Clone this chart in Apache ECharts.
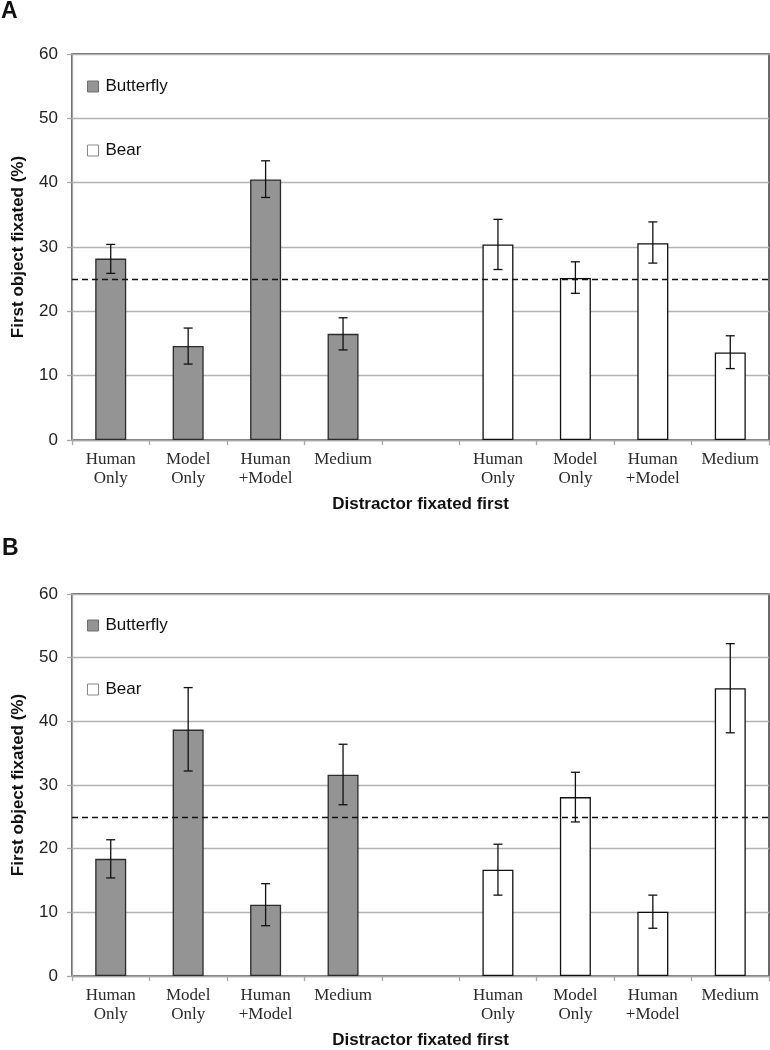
<!DOCTYPE html>
<html><head><meta charset="utf-8">
<script src="https://cdn.jsdelivr.net/npm/echarts@6/dist/echarts.min.js"></script>
<style>html,body{margin:0;padding:0;background:#fff}#c{width:770px;height:1050px}</style>
</head><body><div id="c"></div>
<script>
const categories = ['Human\nOnly','Model\nOnly','Human\n+Model','Medium','','Human\nOnly','Model\nOnly','Human\n+Model','Medium'];
const yTicks = [0,10,20,30,40,50,60];
const chance = 25;
// Panel A
const butterflyA = [28.2, 14.6, 40.5, 16.5];
const butterflyA_lo = [25.9, 11.8, 37.7, 14.0];
const butterflyA_hi = [30.4, 17.4, 43.4, 19.0];
const bearA = [30.4, 25.2, 30.6, 13.6];
const bearA_lo = [26.5, 22.8, 27.5, 11.1];
const bearA_hi = [34.3, 27.7, 33.9, 16.2];
// Panel B
const butterflyB = [18.4, 38.7, 11.2, 31.6];
const butterflyB_lo = [15.4, 32.2, 7.9, 26.9];
const butterflyB_hi = [21.4, 45.3, 14.5, 36.4];
const bearB = [16.7, 28.1, 10.1, 45.2];
const bearB_lo = [12.7, 24.2, 7.5, 38.2];
const bearB_hi = [20.7, 32.0, 12.7, 52.2];

const chart = echarts.init(document.getElementById('c'), null, {renderer:'canvas'});
const SANS = 'Liberation Sans, Arial, sans-serif';
const SERIF = 'Liberation Serif, Times New Roman, serif';
const grids = [
  {left:72, top:54, width:697, height:386},
  {left:72, top:594, width:697, height:386}
];
function pad(vals, offset){ const a = categories.map(()=> '-'); vals.forEach((v,i)=>a[i+offset]=v); return a; }
function errData(lo, hi, offset){ return lo.map((l,i)=>[i+offset, l, hi[i]]); }
const xAxes = [], yAxes = [], series = [], legends = [];
const panels = [
  {bf:butterflyA, bfl:butterflyA_lo, bfh:butterflyA_hi, br:bearA, brl:bearA_lo, brh:bearA_hi, legTop:73},
  {bf:butterflyB, bfl:butterflyB_lo, bfh:butterflyB_hi, br:bearB, brl:bearB_lo, brh:bearB_hi, legTop:612}
];
panels.forEach((p, gi) => {
  xAxes.push({type:'category', gridIndex:gi, data:categories,
    axisLine:{lineStyle:{color:'#a6a6a6', width:1.3}},
    axisTick:{show:true, length:5, lineStyle:{color:'#a6a6a6', width:1.3}},
    axisLabel:{fontFamily:SERIF, fontSize:17, color:'#2a2a2a', lineHeight:19, margin:10, interval:0},
    name:'Distractor fixated first', nameLocation:'middle', nameGap:56,
    nameTextStyle:{fontFamily:SANS, fontSize:17, fontWeight:'bold', color:'#111'}
  });
  yAxes.push({type:'value', gridIndex:gi, min:0, max:60, interval:10,
    axisLine:{show:true, lineStyle:{color:'#a6a6a6', width:1.3}},
    axisTick:{show:true, length:5, lineStyle:{color:'#a6a6a6', width:1.3}},
    axisLabel:{fontFamily:SANS, fontSize:17, color:'#222', margin:14,
      formatter:(v)=> yTicks.includes(v) ? String(v) : ''},
    splitLine:{lineStyle:{color:'#b3b3b3', width:1.3}},
    name:'First object fixated (%)', nameLocation:'middle', nameGap:45,
    nameTextStyle:{fontFamily:SANS, fontSize:17, fontWeight:'bold', color:'#111'}
  });
  series.push({name:'Butterfly', type:'bar', xAxisIndex:gi, yAxisIndex:gi,
    data:pad(p.bf,0), barWidth:31, barGap:'-100%',
    itemStyle:{color:'#949494', borderColor:'#2b2b2b', borderWidth:1.3},
    markLine:{silent:true, symbol:'none', label:{show:false},
      lineStyle:{color:'#111', type:[6,4], width:1.3},
      data:[{yAxis:chance}]}
  });
  series.push({name:'Bear', type:'bar', xAxisIndex:gi, yAxisIndex:gi,
    data:pad(p.br,5), barWidth:31, barGap:'-100%',
    itemStyle:{color:'#ffffff', borderColor:'#111', borderWidth:1.3}
  });
  const ed = errData(p.bfl, p.bfh, 0).concat(errData(p.brl, p.brh, 5));
  series.push({type:'custom', xAxisIndex:gi, yAxisIndex:gi, data:ed, z:5,
    renderItem:(params, api)=>{
      const x = api.value(0);
      const lo = api.coord([x, api.value(1)]);
      const hi = api.coord([x, api.value(2)]);
      const h = 4.5;
      const st = {stroke:'#111', lineWidth:1.3};
      return {type:'group', children:[
        {type:'line', shape:{x1:lo[0], y1:lo[1], x2:hi[0], y2:hi[1]}, style:st},
        {type:'line', shape:{x1:lo[0]-h, y1:lo[1], x2:lo[0]+h, y2:lo[1]}, style:st},
        {type:'line', shape:{x1:hi[0]-h, y1:hi[1], x2:hi[0]+h, y2:hi[1]}, style:st}
      ]};
    }
  });
  legends.push({orient:'vertical', left:82, top:p.legTop, itemWidth:11, itemHeight:11, itemGap:47,
    selectedMode:false,
    textStyle:{fontFamily:SANS, fontSize:17, color:'#111', padding:[0,0,0,2]},
    data:[
      {name:'Butterfly', icon:'rect', itemStyle:{color:'#949494', borderColor:'#6e6e6e', borderWidth:1}},
      {name:'Bear', icon:'rect', itemStyle:{color:'#ffffff', borderColor:'#8a8a8a', borderWidth:1}}
    ]
  });
});
chart.setOption({
  animation:false,
  grid: grids.map(g => Object.assign({show:true, borderColor:'#3a3a3a', borderWidth:1.5, containLabel:false}, g)),
  xAxis:xAxes, yAxis:yAxes, series:series, legend:legends,
  graphic:[
    {type:'text', left:1, top:0, style:{text:'A', fontFamily:SANS, fontSize:23, fontWeight:'bold', fill:'#111'}},
    {type:'text', left:2, top:537, style:{text:'B', fontFamily:SANS, fontSize:23, fontWeight:'bold', fill:'#111'}}
  ]
});
</script></body></html>
